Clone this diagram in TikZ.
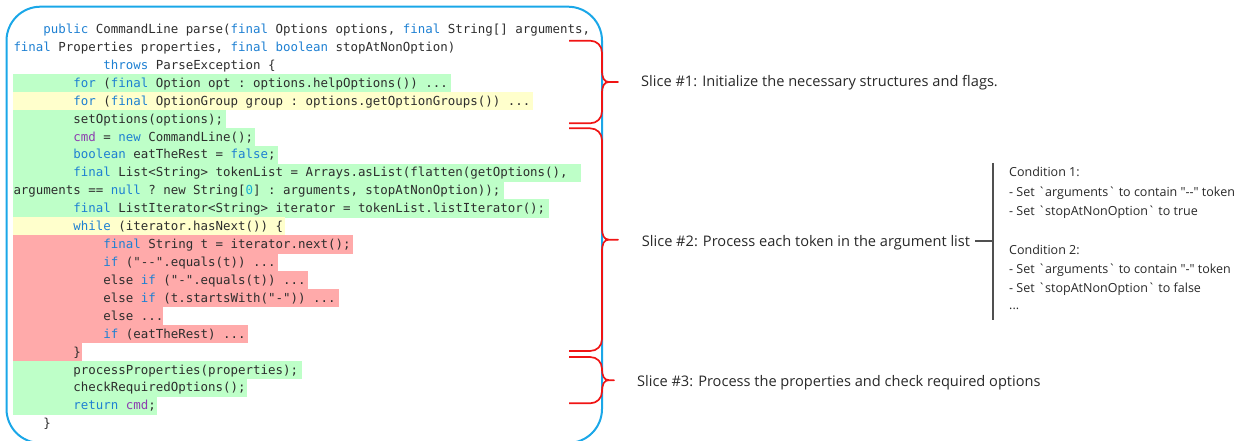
\documentclass[tikz,border=0pt]{standalone}
\usepackage{fontspec}
\setmonofont{DejaVu Sans Mono}
\newfontfamily\labfont{Open Sans}
\definecolor{codegray}{RGB}{45,45,45}
\definecolor{kwblue}{RGB}{30,128,210}
\definecolor{varpurple}{RGB}{140,60,175}
\definecolor{numcyan}{RGB}{25,175,210}
\definecolor{hlgreen}{RGB}{190,255,200}
\definecolor{hlyellow}{RGB}{255,255,204}
\definecolor{hlred}{RGB}{255,170,170}
\definecolor{frameblue}{RGB}{26,167,232}
\definecolor{bracered}{RGB}{240,20,20}
\definecolor{labgray}{RGB}{40,40,40}
\definecolor{bargray}{RGB}{80,80,80}
\newcommand\kw[1]{\textcolor{kwblue}{#1}}
\newcommand\vr[1]{\textcolor{varpurple}{#1}}
\newcommand\nm[1]{\textcolor{numcyan}{#1}}
\newcommand\codeline[3]{\node[code] (l#1) at ({13.3+#2*7.49},{74+(#1-4)*17.92+13.3}) {#3};}
\newcommand\hlrow[3]{\fill[#2] (13.3,{74+(#1-4)*17.92}) rectangle (#3,{74+(#1-3)*17.92+0.4});}
\newcommand\mybrace[3]{%
  \pgfmathsetmacro\bym{(#1+#2)/2}%
  \draw[bracestyle] (569,#1) -- (590,#1) .. controls (597,#1) and (602,#1+5) .. (602,#1+12)
    -- (602,\bym-12) .. controls (602,\bym-4) and (604,\bym) .. (609,\bym) -- (#3,\bym)
    -- (609,\bym) .. controls (604,\bym) and (602,\bym+4) .. (602,\bym+12)
    -- (602,#2-12) .. controls (602,#2-5) and (597,#2) .. (590,#2) -- (569,#2);}
\begin{document}
\begin{tikzpicture}[x=1pt,y=-1pt,
  code/.style={anchor=base west,inner sep=0pt,text=codegray,font=\fontsize{12.44}{15}\selectfont\ttfamily},
  slicelab/.style={anchor=base west,inner sep=0pt,text=labgray,font=\labfont\fontsize{14.6}{18}\selectfont},
  condlab/.style={anchor=base west,inner sep=0pt,text=labgray,font=\labfont\fontsize{12.5}{15}\selectfont},
  bracestyle/.style={draw=bracered,line width=1.7pt,line join=round},
  framestyle/.style={draw=frameblue,line width=2pt,rounded corners=34pt},
  conn/.style={draw=bargray,line width=1.5pt}]
\useasboundingbox (0,0) rectangle (1248,441);
% highlights
\hlrow{4}{hlgreen}{450.7}
\hlrow{5}{hlyellow}{533}
\hlrow{6}{hlgreen}{226}
\hlrow{7}{hlgreen}{255}
\hlrow{8}{hlgreen}{278}
\hlrow{9}{hlgreen}{580.7}
\hlrow{10}{hlgreen}{504}
\hlrow{11}{hlgreen}{549}
\hlrow{12}{hlyellow}{285}
\hlrow{13}{hlred}{353}
\hlrow{14}{hlred}{278}
\hlrow{15}{hlred}{308}
\hlrow{16}{hlred}{339}
\hlrow{17}{hlred}{163}
\hlrow{18}{hlred}{248}
\hlrow{19}{hlred}{82}
\hlrow{20}{hlgreen}{302}
\hlrow{21}{hlgreen}{247}
\hlrow{22}{hlgreen}{157}
% code
\codeline{1}{4}{\kw{public} CommandLine parse(\kw{final} Options options, \kw{final} String[] arguments,}
\codeline{2}{0}{\kw{final} Properties properties, \kw{final} \kw{boolean} stopAtNonOption)}
\codeline{3}{12}{\kw{throws} ParseException \{}
\codeline{4}{8}{\kw{for} (\kw{final} Option opt : options.helpOptions()) ...}
\codeline{5}{8}{\kw{for} (\kw{final} OptionGroup group : options.getOptionGroups()) ...}
\codeline{6}{8}{setOptions(options);}
\codeline{7}{8}{\vr{cmd} = \kw{new} CommandLine();}
\codeline{8}{8}{\kw{boolean} eatTheRest = \kw{false};}
\codeline{9}{8}{\kw{final} List<String> tokenList = Arrays.asList(flatten(getOptions(),}
\codeline{10}{0}{arguments == \kw{null} ? new String[\nm{0}] : arguments, stopAtNonOption));}
\codeline{11}{8}{\kw{final} ListIterator<String> iterator = tokenList.listIterator();}
\codeline{12}{8}{\kw{while} (iterator.hasNext()) \{}
\codeline{13}{12}{\kw{final} String t = iterator.next();}
\codeline{14}{12}{\kw{if} ("-{}-".equals(t)) ...}
\codeline{15}{12}{else \kw{if} ("-".equals(t)) ...}
\codeline{16}{12}{else \kw{if} (t.startsWith("-")) ...}
\codeline{17}{12}{else ...}
\codeline{18}{12}{\kw{if} (eatTheRest) ...}
\codeline{19}{8}{\}}
\codeline{20}{8}{processProperties(properties);}
\codeline{21}{8}{checkRequiredOptions();}
\codeline{22}{8}{\kw{return} \vr{cmd};}
\codeline{23}{4}{\}}
% frame
\draw[framestyle] (6.5,6.7) rectangle (602,443);
% braces
\mybrace{40.7}{123.3}{618}
\mybrace{128.3}{351}{618}
\mybrace{357}{403.3}{614}
% slice labels
\node[slicelab] (s1) at (641,87) {Slice \#1: Initialize the necessary structures and flags.};
\node[slicelab] (s2) at (641.7,246) {Slice \#2: Process each token in the argument list};
\node[slicelab] (s3) at (637,386.7) {Slice \#3: Process the properties and check required options};
% condition bar
\coordinate (bartop) at (993,163);
\coordinate (barbot) at (993,320);
\coordinate (barmid) at (993,241);
\draw[conn] (bartop) -- (barbot);
\draw[conn] ([xshift=5pt]s2.east |- barmid) -- (barmid);
% conditions
\node[condlab] (c1) at (1009,177) {Condition 1:};
\node[condlab] (c2) at (1009,196.5) {- Set \textasciigrave arguments\textasciigrave{} to contain "-{}-" token};
\node[condlab] (c3) at (1009,215.5) {- Set \textasciigrave stopAtNonOption\textasciigrave{} to true};
\node[condlab] (c4) at (1009,254) {Condition 2:};
\node[condlab] (c5) at (1009,273.5) {- Set \textasciigrave arguments\textasciigrave{} to contain "-" token};
\node[condlab] (c6) at (1009,292.5) {- Set \textasciigrave stopAtNonOption\textasciigrave{} to false};
\node[condlab] (c7) at (1009,309) {...};
\end{tikzpicture}
\end{document}
